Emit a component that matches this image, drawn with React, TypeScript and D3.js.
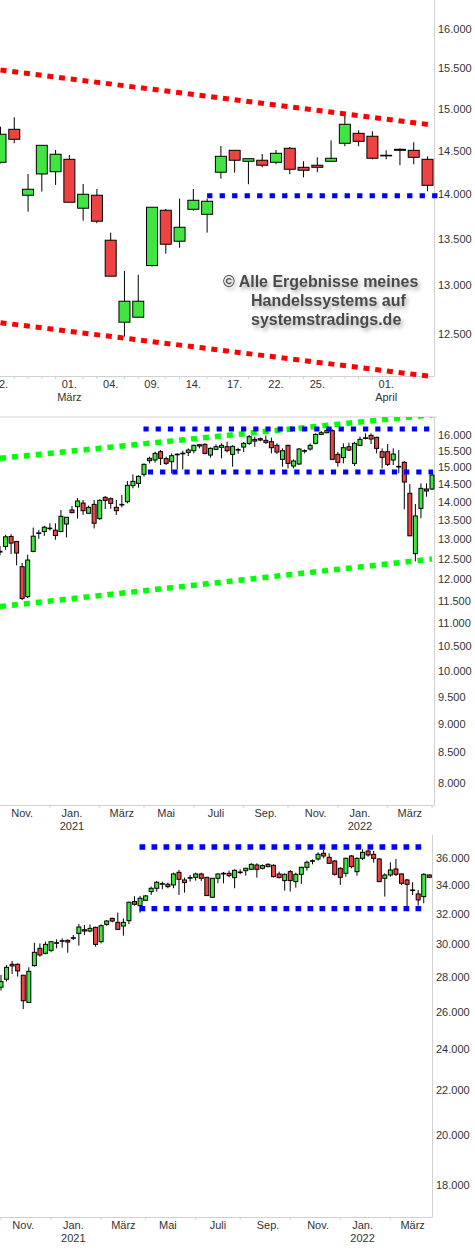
import React from "react";
import * as d3 from "d3";

// ---------- Panel 1: DAX daily (22 Feb - 6 Apr 2022) ----------
const dayOpen = [14363,14752,13985,14228,14254,14398,13839,13985,13485,12619,12670,13211,13816,13474,13827,13771,14248,14503,14375,14387,14363,14527,14305,14329,14375,14586,14704,14669,14445,14503,14503,14398];
const dayHigh = [14783,14896,14228,14562,14507,14448,14113,14056,13568,13154,13112,13850,13831,13946,14056,13946,14554,14503,14405,14460,14507,14542,14375,14421,14621,14924,14740,14728,14503,14527,14598,14433];
const dayLow = [14350,14586,13800,14026,14102,13906,13700,13671,13098,12473,12670,13200,13339,13404,13811,13568,14174,14243,14110,14305,14340,14225,14190,14248,14375,14551,14551,14398,14398,14329,14340,14030];
const dayClose = [14693,14633,14053,14562,14457,13906,13996,13694,13098,12835,12835,13850,13441,13627,13928,13917,14433,14387,14405,14329,14468,14282,14271,14305,14410,14812,14609,14410,14440,14515,14421,14098];
const dayLabelIdx = [0,5,8,11,14,17,20,23,28];
const dayLabelText = ["22.","01.","04.","09.","14.","17.","22.","25.","01."];
const dayMonthIdx = [5,28];
const dayMonthText = ["März","April"];
const dayTicks = [16000,15500,15000,14500,14000,13500,13000,12500];

// ---------- Panel 2: DAX weekly ----------
const wkOpen = [12670,12813,13070,12940,12306,11592,12688,13150,13200,13290,13235,13200,13400,13779,13870,13971,13688,13934,13544,14130,14093,13852,13925,14009,14464,14530,14793,15273,15222,15477,15263,15172,15395,15420,15456,15508,15694,15705,15374,15549,15611,15632,15395,15545,15621,15736,15862,15883,15831,15789,15673,15243,15673,15041,15101,15505,15559,15736,16021,16074,16139,15395,15293,15632,15121,15673,15900,15989,15926,15477,15477,15222,15030,15152,14243,12630,13824,14367,14367];
const wkHigh = [12830,13113,13130,12958,12397,12604,13305,13244,13350,13420,13420,13779,13580,13890,14112,14056,13900,14056,14075,14168,14130,14056,14196,14598,14793,14764,15121,15323,15477,15528,15323,15425,15425,15508,15580,15694,15715,15736,15611,15705,15736,15789,15673,15601,15778,16000,15947,15926,15989,15915,15736,15580,15694,15243,15590,15549,15736,16053,16128,16214,16182,15467,15736,15757,15789,15947,16053,16053,15947,15580,15715,15580,15528,15192,14511,13944,14530,14530,14823];
const wkLow = [12590,12729,12620,12339,11513,11560,12663,13010,13087,13227,12984,13183,13044,13688,13544,13643,13670,13280,13508,13806,13815,13643,13852,13962,14386,14405,14725,15121,15142,15071,15071,14823,14932,14941,15344,15425,15580,15395,15293,15528,15273,15456,15021,15415,15467,15684,15632,15799,15715,15425,15405,15021,14971,14971,15071,15425,15508,15705,16000,16053,15222,15021,15121,15497,15041,15653,15862,15715,15425,14971,15041,15071,14823,13797,13087,12438,13553,14149,14338];
const wkClose = [12690,13061,12898,12646,11552,12471,13078,13165,13314,13280,13096,13607,13580,13706,14028,13760,13852,13420,14046,14046,13962,13760,13934,14473,14588,14735,15091,15202,15425,15273,15121,15354,15400,15430,15528,15673,15653,15425,15580,15632,15673,15508,15642,15535,15736,15947,15809,15841,15768,15601,15467,15508,15121,15192,15559,15510,15673,16021,16074,16139,15243,15152,15601,15528,15736,15862,15910,15873,15580,15303,15091,15405,15021,14569,13087,13616,14386,14309,14774];
const wkTicks = [16000,15500,15000,14500,14000,13500,13000,12500,12000,11500,11000,10500,10000,9500,9000,8500,8000];

// ---------- Panel 3: Dow weekly ----------
const dwOpen = [27385,27852,28751,28751,28089,26516,28670,29741,29428,29615,30080,30206,30249,30400,30701,30940,30853,31094,30163,31292,31692,31425,31182,31536,32841,32563,32934,33545,33782,34110,34070,34022,34946,34384,34540,34578,34823,34578,33144,34505,34860,34872,34554,34960,35069,35169,35494,35244,35544,35469,34823,34335,34996,34263,34798,35318,35810,35949,36384,36076,35797,35244,34872,36178,34996,36000,36564,36307,35949,34505,34749,35194,34823,34384,33650,33379,33191,34749];
const dwHigh = [28109,28710,28954,28811,28089,28569,30099,30057,30163,30206,30313,30377,30313,30592,31314,31248,31292,31138,31292,31581,31740,32083,31692,32841,33215,33238,33309,33902,34311,34263,34190,34921,35119,34554,34749,34921,34921,34578,34505,34872,34971,35069,35169,35169,35294,35620,35620,35544,35620,35544,34996,34872,35119,34921,35369,35822,35924,36461,36642,36384,35873,35318,36051,36255,36076,36694,36642,36564,36000,34872,35696,35949,34872,34456,34215,33663,34872,34798];
const dwLow = [27194,27715,28168,28010,26145,26479,28609,29221,29366,29490,29741,29783,29469,30270,29909,30592,30766,29846,30057,31204,31425,30918,30549,31314,32563,32083,32887,33309,33545,33711,33782,33782,33309,33474,34263,34335,34311,33238,33120,34142,34142,34578,33782,34798,34700,35119,34554,35169,35318,34578,34505,33616,33545,33830,34094,35069,35544,35822,36000,35570,34700,34022,34627,35244,34700,35873,36127,35670,34240,33191,34627,34676,34022,32494,33309,32563,32725,34554];
const dwClose = [27715,28569,28650,28348,26610,28328,29490,29324,29993,30163,30099,30227,30142,30420,31116,30853,31028,29993,31204,31514,31514,30962,31425,32794,32655,33074,33238,33782,34215,34118,33902,34823,34432,34190,34554,34823,34505,33262,34505,34823,34872,34700,35094,34971,35244,35544,35169,35444,35369,34627,34554,34798,34335,34798,35318,35696,35822,36307,36178,35620,34798,34578,36000,35369,36000,36461,36255,36000,34263,34749,35119,34798,34142,34070,33663,32957,34798,34578];
const dwTicks = [36000,34000,32000,30000,28000,26000,24000,22000,20000,18000];

// weekly month labels (week index containing 1st of month)
const monthIdx = [4,13,22,30,39,48,57,65,74];
const monthText = ["Nov.","Jan.","März","Mai","Juli","Sep.","Nov.","Jan.","März"];
const yearIdx = [13,65];
const yearText = ["2021","2022"];
const wkMinorTicks = [9,18,26,35,44,52,61,70,78];
const dwMinorTicks = [0,9,18,26,35,43,52,61,70];

// trend lines: [startIndex, startPrice, endIndex, endPrice]
const dayRedUpper = [0, 15478, 31.34, 14804];
const dayRedLower = [0, 12614, 31.34, 12075];
const dayBlue = [15, 13980, 31.77, 13980];
const wkGreenUpper = [0, 15274, 78.3, 16664];
const wkGreenLower = [0, 11367, 78, 12495];
const wkBlueUpper = [25.9, 16193, 77.6, 16193];
const wkBlueLower = [26.7, 14862, 78.2, 14862];
const dwBlueUpper = [24.9, 36873, 75.7, 36873];
const dwBlueLower = [24.9, 32349, 75.7, 32349];

const GREEN = "#3fe63f";
const RED = "#ee4343";
const AXIS = "#d0d0d0";
const TXT = "#333";
const FONT = "'Liberation Sans', Arial, sans-serif";

const fmt = d3.formatLocale({ decimal: ",", thousands: ".", grouping: [3], currency: ["", ""] }).format(",d");

type Sc = (v: number) => number;

function Candles({ o, h, l, c, x, y, w }: { o: number[]; h: number[]; l: number[]; c: number[]; x: Sc; y: Sc; w: number }) {
  return (
    <g>
      {o.map((_, i) => {
        const up = c[i] >= o[i];
        const top = y(Math.max(o[i], c[i]));
        const bot = y(Math.min(o[i], c[i]));
        const cx = x(i);
        return (
          <g key={i}>
            <line x1={cx} x2={cx} y1={y(h[i])} y2={y(l[i])} stroke="#000" strokeWidth={1} />
            <rect x={cx - w / 2} y={top} width={w} height={Math.max(bot - top, 0.6)} fill={up ? GREEN : RED} stroke="#000" strokeWidth={1} />
          </g>
        );
      })}
    </g>
  );
}

function Dotted({ seg, x, y, color, sw, dash }: { seg: number[]; x: Sc; y: Sc; color: string; sw: number; dash: string }) {
  return (
    <line x1={x(seg[0])} y1={y(seg[1])} x2={x(seg[2])} y2={y(seg[3])} stroke={color} strokeWidth={sw} strokeDasharray={dash} />
  );
}

export default function App() {
  // panel 1
  const x1 = d3.scaleLinear().domain([0, 31]).range([0.5, 427.5]);
  const y1 = d3.scaleLog().domain([12081, 16380]).range([376, 0]);
  // panel 2
  const x2 = d3.scaleLinear().domain([0, 78]).range([0, 432]);
  const y2 = d3.scaleLog().domain([7653, 16585]).range([805, 417]);
  // panel 3
  const x3 = d3.scaleLinear().domain([0, 77]).range([1, 429.3]);
  const y3 = d3.scaleLog().domain([16819, 37825]).range([1217, 835]);

  const textStyle = { fontFamily: FONT, fontSize: 11, fill: TXT } as const;

  return (
    <svg width={475} height={1250} style={{ position: "absolute", left: 0, top: 0, background: "#fff" }}>
      <defs>
        <filter id="tshadow" x="-10%" y="-40%" width="125%" height="200%">
          <feGaussianBlur in="SourceAlpha" stdDeviation="2.2" />
          <feOffset dx="2" dy="3" result="b" />
          <feComponentTransfer>
            <feFuncA type="linear" slope="0.35" />
          </feComponentTransfer>
          <feMerge>
            <feMergeNode />
            <feMergeNode in="SourceGraphic" />
          </feMerge>
        </filter>
        <clipPath id="clip2">
          <rect x={0} y={417} width={440} height={400} />
        </clipPath>
      </defs>
      <rect x={0} y={0} width={475} height={1250} fill="#fff" />

      {/* ================= Panel 1 ================= */}
      <line x1={434.5} x2={434.5} y1={0} y2={376} stroke={AXIS} />
      <line x1={0} x2={434.5} y1={376.5} y2={376.5} stroke={AXIS} />
      {x1.ticks ? d3.range(0, 32).filter((i) => !dayLabelIdx.includes(i)).map((i) => (
        <line key={i} x1={x1(i)} x2={x1(i)} y1={376.5} y2={379} stroke={AXIS} />
      )) : null}
      {dayTicks.map((t) => (
        <text key={t} x={438} y={y1(t) + 4} style={textStyle}>{fmt(t)}</text>
      ))}
      {dayLabelIdx.map((idx, k) => (
        <text key={k} x={x1(idx)} y={388} textAnchor="middle" style={textStyle}>{dayLabelText[k]}</text>
      ))}
      {dayMonthIdx.map((idx, k) => (
        <text key={k} x={x1(idx)} y={401} textAnchor="middle" style={textStyle}>{dayMonthText[k]}</text>
      ))}
      <g filter="url(#tshadow)" style={{ fontFamily: FONT, fontSize: 16, fontWeight: "bold", fill: "#4a4a4a" }}>
        <text x={223} y={286.5}>© Alle Ergebnisse meines</text>
        <text x={251} y={305.5}>Handelssystems auf</text>
        <text x={251} y={324.5}>systemstradings.de</text>
      </g>
      <Candles o={dayOpen} h={dayHigh} l={dayLow} c={dayClose} x={x1} y={y1} w={11} />
      <Dotted seg={dayRedUpper} x={x1} y={y1} color="#ff0000" sw={5} dash="6 5.8" />
      <Dotted seg={dayRedLower} x={x1} y={y1} color="#ff0000" sw={5} dash="6 5.8" />
      <Dotted seg={dayBlue} x={x1} y={y1} color="#0000ff" sw={5} dash="5.3 7.2" />

      {/* ================= Panel 2 ================= */}
      <line x1={0} x2={437} y1={417} y2={417} stroke={AXIS} />
      <line x1={434.5} x2={434.5} y1={417} y2={805} stroke={AXIS} />
      <line x1={0} x2={434.5} y1={805.5} y2={805.5} stroke={AXIS} />
      {wkMinorTicks.map((i) => (
        <line key={i} x1={x2(i)} x2={x2(i)} y1={805.5} y2={808} stroke={AXIS} />
      ))}
      {wkTicks.map((t) => (
        <text key={t} x={438} y={y2(t) + 4} style={textStyle}>{fmt(t)}</text>
      ))}
      {monthIdx.map((idx, k) => (
        <text key={k} x={x2(idx)} y={817} textAnchor="middle" style={textStyle}>{monthText[k]}</text>
      ))}
      {yearIdx.map((idx, k) => (
        <text key={k} x={x2(idx)} y={830} textAnchor="middle" style={textStyle}>{yearText[k]}</text>
      ))}
      <g clipPath="url(#clip2)">
        <Candles o={wkOpen} h={wkHigh} l={wkLow} c={wkClose} x={x2} y={y2} w={4} />
        <Dotted seg={wkGreenUpper} x={x2} y={y2} color="#00ff00" sw={5.5} dash="6 6" />
        <Dotted seg={wkGreenLower} x={x2} y={y2} color="#00ff00" sw={5.5} dash="6 6" />
        <Dotted seg={wkBlueUpper} x={x2} y={y2} color="#0000ff" sw={5} dash="5.2 7" />
        <Dotted seg={wkBlueLower} x={x2} y={y2} color="#0000ff" sw={5} dash="5.2 7" />
      </g>

      {/* ================= Panel 3 ================= */}
      <line x1={432.5} x2={432.5} y1={835} y2={1217} stroke={AXIS} />
      <line x1={0} x2={432.5} y1={1217.5} y2={1217.5} stroke={AXIS} />
      {dwMinorTicks.map((i) => (
        <line key={i} x1={x3(i)} x2={x3(i)} y1={1217.5} y2={1220} stroke={AXIS} />
      ))}
      {dwTicks.map((t) => (
        <text key={t} x={436} y={y3(t) + 4} style={textStyle}>{fmt(t)}</text>
      ))}
      {monthIdx.map((idx, k) => (
        <text key={k} x={x3(idx)} y={1229} textAnchor="middle" style={textStyle}>{monthText[k]}</text>
      ))}
      {yearIdx.map((idx, k) => (
        <text key={k} x={x3(idx)} y={1242} textAnchor="middle" style={textStyle}>{yearText[k]}</text>
      ))}
      <Candles o={dwOpen} h={dwHigh} l={dwLow} c={dwClose} x={x3} y={y3} w={4} />
      <Dotted seg={dwBlueUpper} x={x3} y={y3} color="#0000ff" sw={5.3} dash="5.7 6.3" />
      <Dotted seg={dwBlueLower} x={x3} y={y3} color="#0000ff" sw={5.3} dash="5.7 6.3" />
    </svg>
  );
}
